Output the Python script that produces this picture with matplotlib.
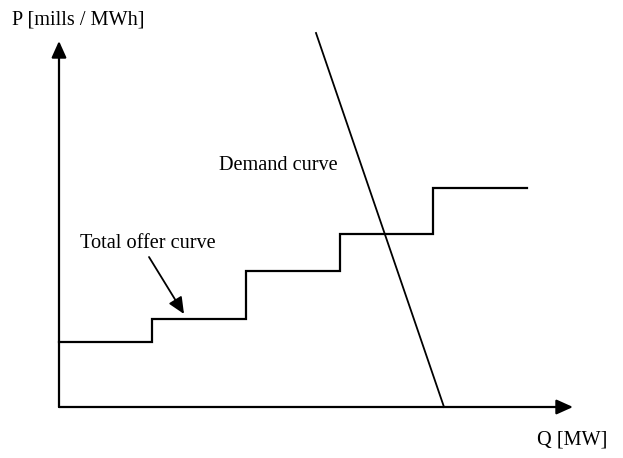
import matplotlib
matplotlib.use('Agg')
import matplotlib.pyplot as plt

# Offer curve steps (Q edges, P levels) and demand line
offer_q = [0, 93, 187, 281, 374, 468]
offer_p = [65, 88, 136, 173, 219]
demand_q = [257, 385]
demand_p = [374, 0]

plt.rcParams['font.family'] = ['Liberation Serif', 'DejaVu Serif']

fig = plt.figure(figsize=(6.23, 4.58), dpi=100)
ax = fig.add_axes([0, 0, 1, 1])
ax.set_xlim(-59, 564)
ax.set_ylim(-51, 407)
ax.axis('off')

# axes with arrow heads
arrow = dict(arrowstyle='-|>,head_length=1.0,head_width=0.45', color='black', lw=1.6,
             shrinkA=0, shrinkB=0)
ax.annotate('', xy=(0, 366), xytext=(0, 0), arrowprops=arrow)
ax.annotate('', xy=(514, 0), xytext=(0, 0), arrowprops=arrow)

# total offer curve as a staircase
xs, ys = [], []
for i, p in enumerate(offer_p):
    xs += [offer_q[i], offer_q[i + 1]]
    ys += [p, p]
ax.plot(xs, ys, color='black', lw=1.6, solid_joinstyle='miter')

# demand curve
ax.plot(demand_q, demand_p, color='black', lw=1.3)

fs = 14.6
ax.text(-47, 387, 'P [mills / MWh]', fontsize=fs, va='center', ha='left')
ax.text(548, -33, 'Q [MW]', fontsize=fs, va='center', ha='right')
ax.text(160, 241, 'Demand curve', fontsize=fs, va='center', ha='left')
ax.text(21, 164, 'Total offer curve', fontsize=fs, va='center', ha='left')
ax.annotate('', xy=(125, 93), xytext=(90, 150),
            arrowprops=dict(arrowstyle='-|>,head_length=1.0,head_width=0.45',
                            color='black', lw=1.3, shrinkA=0, shrinkB=0))

fig.savefig('out.png', dpi=100)
